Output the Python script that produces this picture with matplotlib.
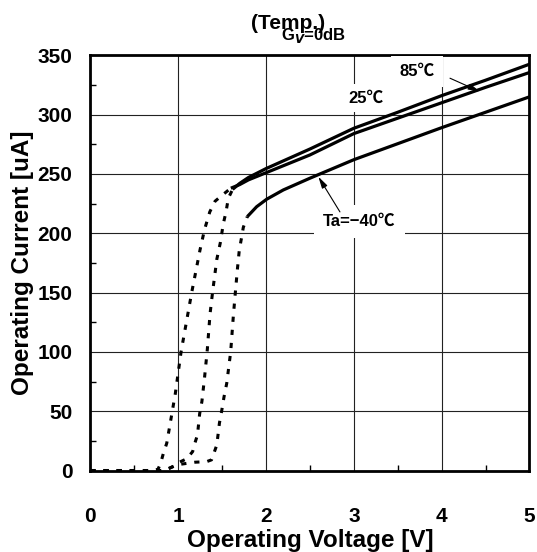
import matplotlib
matplotlib.use("Agg")
import matplotlib.pyplot as plt
from matplotlib.ticker import MultipleLocator

plt.rcParams["font.family"] = ["Liberation Sans", "DejaVu Sans"]
plt.rcParams["font.weight"] = "bold"
plt.rcParams["mathtext.fontset"] = "custom"
plt.rcParams["mathtext.rm"] = "Liberation Sans:bold"
plt.rcParams["mathtext.bf"] = "Liberation Sans:bold"

# rising (dotted) part of each curve, voltage [V] / current [uA]
v_85_rise = [0, 0.5, 0.70, 0.77, 0.80, 0.83, 0.87, 0.91, 0.968, 1.033, 1.154, 1.249, 1.30, 1.36, 1.42, 1.50, 1.60]
i_85_rise = [0, 0, 0, 1, 6, 14, 23, 40, 65, 100, 150, 186, 203, 218, 227, 232, 238]

v_25_rise = [0, 0.5, 0.85, 0.93, 1.0, 1.10, 1.165, 1.19, 1.22, 1.245, 1.27, 1.30, 1.332, 1.363,
             1.393, 1.44, 1.48, 1.514, 1.545, 1.571, 1.62]
i_25_rise = [0, 0, 0, 3, 6.5, 10, 16, 23, 30, 48, 58, 78, 102, 132, 151, 178, 192, 208, 218, 229.5, 237]

v_m40_rise = [0, 0.5, 0.80, 0.90, 1.0, 1.19, 1.325, 1.38, 1.44, 1.47, 1.495, 1.522, 1.553, 1.598,
              1.628, 1.651, 1.675, 1.695, 1.742, 1.787]
i_m40_rise = [0, 0, 0, 2, 5, 7, 7.5, 9, 21.5, 40, 50, 62, 73.5, 100, 130, 150, 170, 185, 205, 214]

# operating (solid) part
v_25_op = [1.62, 1.70, 1.80, 2.0, 2.5, 3.0, 3.5, 4.0, 4.5, 5.0]
i_25_op = [237, 242, 247, 254.5, 271, 288.5, 302, 316, 329, 342.5]

v_85_op = [1.60, 1.70, 1.80, 2.0, 2.5, 3.0, 3.5, 4.0, 4.5, 5.0]
i_85_op = [238, 241, 245, 251, 266, 284, 297, 310, 323, 335.5]

v_m40_op = [1.787, 1.894, 2.008, 2.197, 2.5, 3.0, 3.5, 4.0, 4.5, 5.0]
i_m40_op = [214, 222.4, 228.7, 236.5, 246.4, 262, 275.5, 289, 302, 315]

fig = plt.figure(figsize=(5.37, 5.52), dpi=100)
ax = fig.add_axes([0.1682, 0.1476, 0.8178, 0.7522])

dot = (0, (1.7, 2.6))
for v, i in [(v_85_rise, i_85_rise), (v_25_rise, i_25_rise), (v_m40_rise, i_m40_rise)]:
    ax.plot(v, i, color="black", lw=2.2, linestyle=dot, dash_capstyle="butt", zorder=4)
for v, i in [(v_25_op, i_25_op), (v_85_op, i_85_op), (v_m40_op, i_m40_op)]:
    ax.plot(v, i, color="black", lw=2.3, solid_capstyle="butt", zorder=4)

ax.set_xlim(0, 5)
ax.set_ylim(0, 350)
ax.xaxis.set_major_locator(MultipleLocator(1))
ax.xaxis.set_minor_locator(MultipleLocator(0.5))
ax.yaxis.set_major_locator(MultipleLocator(50))
ax.yaxis.set_minor_locator(MultipleLocator(25))
ax.grid(True, which="major", color="#222222", lw=0.8, zorder=1)
ax.tick_params(which="major", length=0, labelsize=15, pad=13)
ax.tick_params(axis="x", which="major", pad=26)
ax.tick_params(which="minor", direction="in", length=4, width=1, color="black")
for side in ["left", "bottom", "top", "right"]:
    ax.spines[side].set_linewidth(2)
for lab in ax.get_xticklabels() + ax.get_yticklabels():
    lab.set_fontweight("bold")

ax.set_xlabel("Operating Voltage [V]", fontsize=17.5, fontweight="bold")
ax.set_ylabel("Operating Current [uA]", fontsize=17.5, fontweight="bold")
ax.xaxis.set_label_coords(0.5, -0.142)
ax.yaxis.set_label_coords(-0.128, 0.5)

# title is clipped at the top edge in the original
fig.text(0.545, 1.012, "Operating Current vs. Operating Voltage", ha="center", va="baseline",
         fontsize=16.5, fontweight="bold")
fig.text(0.537, 0.958, "(Temp.)", ha="center", va="center", fontsize=15, fontweight="bold")
fig.text(0.583, 0.936, r"G$_{V}$=0dB", ha="center", va="center", fontsize=12, fontweight="bold")

deg_font = ["Liberation Sans", "Noto Sans CJK JP"]
ax.text(3.716, 336.3, "85℃", ha="center", va="center", fontsize=12, fontweight="bold",
        family=deg_font, bbox=dict(boxstyle="square,pad=0.5", fc="white", ec="none"), zorder=3)
ax.text(3.14, 313.8, "25℃", ha="center", va="center", fontsize=12, fontweight="bold",
        family=deg_font, bbox=dict(boxstyle="square,pad=0.4", fc="white", ec="none"), zorder=3)
ax.text(3.06, 209.8, "Ta=−40℃", ha="center", va="center", fontsize=12, fontweight="bold",
        family=deg_font, bbox=dict(boxstyle="square,pad=0.55", fc="white", ec="none"), zorder=3)

arrow = dict(arrowstyle="-|>,head_length=0.7,head_width=0.18", lw=0.8, color="black",
             shrinkA=0, shrinkB=0)
ax.annotate("", xy=(4.436, 319.4), xytext=(4.095, 330.7), arrowprops=arrow, zorder=5)
ax.annotate("", xy=(2.596, 247.7), xytext=(2.842, 218), arrowprops=arrow, zorder=5)

fig.savefig("out.png", dpi=100)
